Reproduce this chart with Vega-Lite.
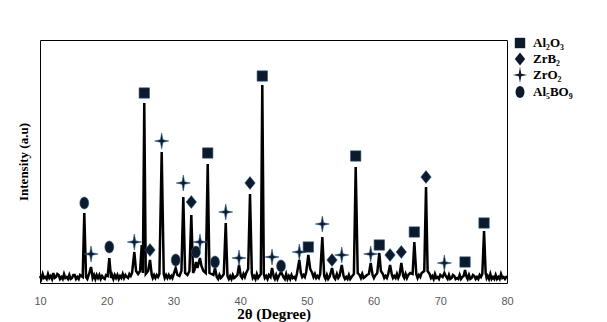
{
  "$schema": "https://vega.github.io/schema/vega-lite/v6.json",
  "width": 467,
  "height": 243,
  "autosize": {"type": "none"},
  "padding": {"left": 40, "top": 40, "right": 100, "bottom": 39},
  "background": "white",
  "config": {"view": {"stroke": "#000", "strokeWidth": 1}, "axis": {"grid": false}},
  "datasets": {
    "pattern": [
      {"theta": 10.0, "intensity": 7}, {"theta": 10.2, "intensity": 4}, {"theta": 10.4, "intensity": 9}, {"theta": 10.6, "intensity": 5}, {"theta": 10.8, "intensity": 6}, {"theta": 11.0, "intensity": 4}, {"theta": 11.2, "intensity": 9},
      {"theta": 11.4, "intensity": 5}, {"theta": 11.6, "intensity": 7}, {"theta": 11.8, "intensity": 4}, {"theta": 12.0, "intensity": 10}, {"theta": 12.2, "intensity": 5}, {"theta": 12.4, "intensity": 6}, {"theta": 12.6, "intensity": 9}, {"theta": 12.8, "intensity": 8},
      {"theta": 13.0, "intensity": 4}, {"theta": 13.2, "intensity": 6}, {"theta": 13.4, "intensity": 4}, {"theta": 13.6, "intensity": 9}, {"theta": 13.8, "intensity": 5}, {"theta": 14.0, "intensity": 6}, {"theta": 14.2, "intensity": 4}, {"theta": 14.4, "intensity": 8},
      {"theta": 14.6, "intensity": 4}, {"theta": 14.8, "intensity": 5}, {"theta": 15.0, "intensity": 8}, {"theta": 15.2, "intensity": 8}, {"theta": 15.4, "intensity": 4}, {"theta": 15.6, "intensity": 6}, {"theta": 15.8, "intensity": 4}, {"theta": 16.0, "intensity": 8},
      {"theta": 16.4, "intensity": 6}, {"theta": 16.64, "intensity": 70}, {"theta": 16.9, "intensity": 6}, {"theta": 17.1, "intensity": 4}, {"theta": 17.3, "intensity": 8},
      {"theta": 17.65, "intensity": 16}, {"theta": 17.9, "intensity": 5}, {"theta": 18.1, "intensity": 8}, {"theta": 18.3, "intensity": 4}, {"theta": 18.5, "intensity": 8}, {"theta": 18.7, "intensity": 5},
      {"theta": 18.9, "intensity": 8}, {"theta": 19.1, "intensity": 4}, {"theta": 19.3, "intensity": 7}, {"theta": 19.5, "intensity": 5}, {"theta": 19.7, "intensity": 4}, {"theta": 19.9, "intensity": 8}, {"theta": 20.15, "intensity": 7},
      {"theta": 20.39, "intensity": 25}, {"theta": 20.65, "intensity": 5}, {"theta": 20.8, "intensity": 8}, {"theta": 21.0, "intensity": 4}, {"theta": 21.2, "intensity": 8}, {"theta": 21.4, "intensity": 5},
      {"theta": 21.6, "intensity": 8}, {"theta": 21.8, "intensity": 4}, {"theta": 22.0, "intensity": 7}, {"theta": 22.2, "intensity": 5}, {"theta": 22.4, "intensity": 9}, {"theta": 22.6, "intensity": 5}, {"theta": 22.8, "intensity": 8}, {"theta": 23.0, "intensity": 6},
      {"theta": 23.2, "intensity": 5}, {"theta": 23.4, "intensity": 9}, {"theta": 23.6, "intensity": 7}, {"theta": 23.8, "intensity": 10}, {"theta": 24.14, "intensity": 31}, {"theta": 24.4, "intensity": 12},
      {"theta": 24.7, "intensity": 9}, {"theta": 25.0, "intensity": 12}, {"theta": 25.25, "intensity": 38}, {"theta": 25.42, "intensity": 10},
      {"theta": 25.63, "intensity": 180}, {"theta": 25.85, "intensity": 9}, {"theta": 26.2, "intensity": 12}, {"theta": 26.49, "intensity": 23},
      {"theta": 26.75, "intensity": 8}, {"theta": 26.9, "intensity": 5}, {"theta": 27.1, "intensity": 8}, {"theta": 27.3, "intensity": 5}, {"theta": 27.5, "intensity": 8}, {"theta": 27.7, "intensity": 6}, {"theta": 27.9, "intensity": 9},
      {"theta": 28.24, "intensity": 131}, {"theta": 28.55, "intensity": 9}, {"theta": 28.7, "intensity": 5}, {"theta": 28.9, "intensity": 8}, {"theta": 29.1, "intensity": 5}, {"theta": 29.3, "intensity": 8},
      {"theta": 29.5, "intensity": 5}, {"theta": 29.7, "intensity": 7}, {"theta": 29.85, "intensity": 5}, {"theta": 30.05, "intensity": 9}, {"theta": 30.34, "intensity": 15}, {"theta": 30.6, "intensity": 8},
      {"theta": 30.9, "intensity": 7}, {"theta": 31.2, "intensity": 12}, {"theta": 31.48, "intensity": 86}, {"theta": 31.75, "intensity": 10},
      {"theta": 32.1, "intensity": 8}, {"theta": 32.4, "intensity": 12}, {"theta": 32.68, "intensity": 68}, {"theta": 32.95, "intensity": 10},
      {"theta": 33.15, "intensity": 13}, {"theta": 33.38, "intensity": 21}, {"theta": 33.6, "intensity": 15}, {"theta": 33.98, "intensity": 25},
      {"theta": 34.2, "intensity": 17}, {"theta": 34.5, "intensity": 12}, {"theta": 34.85, "intensity": 10}, {"theta": 35.14, "intensity": 119},
      {"theta": 35.4, "intensity": 10}, {"theta": 35.7, "intensity": 9}, {"theta": 36.0, "intensity": 8}, {"theta": 36.23, "intensity": 15},
      {"theta": 36.5, "intensity": 6}, {"theta": 36.7, "intensity": 4}, {"theta": 36.9, "intensity": 8}, {"theta": 37.1, "intensity": 5}, {"theta": 37.25, "intensity": 6}, {"theta": 37.55, "intensity": 9},
      {"theta": 37.84, "intensity": 60}, {"theta": 38.1, "intensity": 7}, {"theta": 38.3, "intensity": 4}, {"theta": 38.5, "intensity": 7}, {"theta": 38.7, "intensity": 4}, {"theta": 38.9, "intensity": 8},
      {"theta": 39.1, "intensity": 5}, {"theta": 39.3, "intensity": 6}, {"theta": 39.6, "intensity": 8}, {"theta": 39.83, "intensity": 18}, {"theta": 40.1, "intensity": 7},
      {"theta": 40.3, "intensity": 5}, {"theta": 40.5, "intensity": 9}, {"theta": 40.7, "intensity": 6}, {"theta": 40.9, "intensity": 10}, {"theta": 41.2, "intensity": 14}, {"theta": 41.48, "intensity": 89},
      {"theta": 41.75, "intensity": 10}, {"theta": 41.9, "intensity": 5}, {"theta": 42.1, "intensity": 7}, {"theta": 42.3, "intensity": 4}, {"theta": 42.5, "intensity": 9}, {"theta": 42.7, "intensity": 5}, {"theta": 42.9, "intensity": 7},
      {"theta": 43.1, "intensity": 9}, {"theta": 43.32, "intensity": 198}, {"theta": 43.55, "intensity": 9}, {"theta": 43.7, "intensity": 5}, {"theta": 43.9, "intensity": 7}, {"theta": 44.1, "intensity": 4},
      {"theta": 44.3, "intensity": 8}, {"theta": 44.55, "intensity": 6}, {"theta": 44.78, "intensity": 15}, {"theta": 45.05, "intensity": 6}, {"theta": 45.2, "intensity": 4},
      {"theta": 45.4, "intensity": 8}, {"theta": 45.6, "intensity": 4}, {"theta": 45.8, "intensity": 7}, {"theta": 46.13, "intensity": 11}, {"theta": 46.5, "intensity": 6}, {"theta": 46.7, "intensity": 4},
      {"theta": 46.9, "intensity": 9}, {"theta": 47.1, "intensity": 4}, {"theta": 47.3, "intensity": 7}, {"theta": 47.5, "intensity": 4}, {"theta": 47.7, "intensity": 8}, {"theta": 47.9, "intensity": 5}, {"theta": 48.1, "intensity": 6},
      {"theta": 48.3, "intensity": 4}, {"theta": 48.5, "intensity": 9}, {"theta": 48.87, "intensity": 23}, {"theta": 49.1, "intensity": 10}, {"theta": 49.3, "intensity": 6}, {"theta": 49.5, "intensity": 8},
      {"theta": 49.7, "intensity": 6}, {"theta": 49.9, "intensity": 11}, {"theta": 50.22, "intensity": 28}, {"theta": 50.5, "intensity": 14}, {"theta": 50.8, "intensity": 10},
      {"theta": 51.0, "intensity": 6}, {"theta": 51.2, "intensity": 9}, {"theta": 51.4, "intensity": 5}, {"theta": 51.6, "intensity": 7}, {"theta": 51.8, "intensity": 5}, {"theta": 52.0, "intensity": 9}, {"theta": 52.32, "intensity": 46},
      {"theta": 52.6, "intensity": 7}, {"theta": 52.8, "intensity": 4}, {"theta": 53.0, "intensity": 8}, {"theta": 53.2, "intensity": 4}, {"theta": 53.4, "intensity": 6}, {"theta": 53.77, "intensity": 15},
      {"theta": 54.05, "intensity": 6}, {"theta": 54.25, "intensity": 4}, {"theta": 54.5, "intensity": 9}, {"theta": 54.7, "intensity": 5}, {"theta": 54.9, "intensity": 7}, {"theta": 55.23, "intensity": 18},
      {"theta": 55.5, "intensity": 7}, {"theta": 55.7, "intensity": 4}, {"theta": 55.9, "intensity": 6}, {"theta": 56.1, "intensity": 4}, {"theta": 56.3, "intensity": 8}, {"theta": 56.5, "intensity": 4}, {"theta": 56.7, "intensity": 6},
      {"theta": 57.05, "intensity": 9}, {"theta": 57.32, "intensity": 116}, {"theta": 57.45, "intensity": 72}, {"theta": 57.62, "intensity": 10},
      {"theta": 57.9, "intensity": 8}, {"theta": 58.1, "intensity": 5}, {"theta": 58.3, "intensity": 9}, {"theta": 58.5, "intensity": 5}, {"theta": 58.7, "intensity": 6}, {"theta": 59.0, "intensity": 8},
      {"theta": 59.3, "intensity": 9}, {"theta": 59.57, "intensity": 20}, {"theta": 59.85, "intensity": 8}, {"theta": 60.05, "intensity": 5}, {"theta": 60.2, "intensity": 7},
      {"theta": 60.55, "intensity": 10}, {"theta": 60.86, "intensity": 30}, {"theta": 61.1, "intensity": 12}, {"theta": 61.4, "intensity": 9},
      {"theta": 61.6, "intensity": 5}, {"theta": 61.8, "intensity": 7}, {"theta": 62.0, "intensity": 5}, {"theta": 62.2, "intensity": 9}, {"theta": 62.47, "intensity": 18}, {"theta": 62.75, "intensity": 8},
      {"theta": 62.9, "intensity": 5}, {"theta": 63.1, "intensity": 7}, {"theta": 63.3, "intensity": 5}, {"theta": 63.5, "intensity": 9}, {"theta": 63.7, "intensity": 5}, {"theta": 63.9, "intensity": 8}, {"theta": 64.16, "intensity": 20},
      {"theta": 64.45, "intensity": 7}, {"theta": 64.6, "intensity": 5}, {"theta": 64.8, "intensity": 9}, {"theta": 65.0, "intensity": 5}, {"theta": 65.2, "intensity": 8}, {"theta": 65.5, "intensity": 10},
      {"theta": 65.85, "intensity": 9}, {"theta": 66.11, "intensity": 41}, {"theta": 66.4, "intensity": 9}, {"theta": 66.6, "intensity": 5}, {"theta": 66.8, "intensity": 8},
      {"theta": 67.0, "intensity": 6}, {"theta": 67.2, "intensity": 10}, {"theta": 67.6, "intensity": 12}, {"theta": 67.86, "intensity": 96}, {"theta": 68.1, "intensity": 12},
      {"theta": 68.4, "intensity": 9}, {"theta": 68.6, "intensity": 5}, {"theta": 68.8, "intensity": 7}, {"theta": 69.0, "intensity": 4}, {"theta": 69.2, "intensity": 9}, {"theta": 69.4, "intensity": 5}, {"theta": 69.6, "intensity": 6},
      {"theta": 69.8, "intensity": 4}, {"theta": 70.0, "intensity": 8}, {"theta": 70.35, "intensity": 6}, {"theta": 70.61, "intensity": 10}, {"theta": 70.9, "intensity": 6},
      {"theta": 71.1, "intensity": 4}, {"theta": 71.3, "intensity": 8}, {"theta": 71.5, "intensity": 4}, {"theta": 71.7, "intensity": 5}, {"theta": 71.9, "intensity": 8}, {"theta": 72.1, "intensity": 7}, {"theta": 72.3, "intensity": 4}, {"theta": 72.5, "intensity": 5},
      {"theta": 72.7, "intensity": 4}, {"theta": 72.9, "intensity": 8}, {"theta": 73.1, "intensity": 4}, {"theta": 73.3, "intensity": 6}, {"theta": 73.5, "intensity": 7}, {"theta": 73.71, "intensity": 13},
      {"theta": 73.95, "intensity": 6}, {"theta": 74.1, "intensity": 4}, {"theta": 74.3, "intensity": 8}, {"theta": 74.5, "intensity": 4}, {"theta": 74.7, "intensity": 5}, {"theta": 74.9, "intensity": 8}, {"theta": 75.1, "intensity": 7},
      {"theta": 75.3, "intensity": 4}, {"theta": 75.5, "intensity": 6}, {"theta": 75.7, "intensity": 4}, {"theta": 75.9, "intensity": 8}, {"theta": 76.1, "intensity": 6}, {"theta": 76.3, "intensity": 9}, {"theta": 76.56, "intensity": 52},
      {"theta": 76.8, "intensity": 10}, {"theta": 76.95, "intensity": 5}, {"theta": 77.1, "intensity": 7}, {"theta": 77.3, "intensity": 4}, {"theta": 77.5, "intensity": 9}, {"theta": 77.7, "intensity": 4}, {"theta": 77.9, "intensity": 6},
      {"theta": 78.1, "intensity": 4}, {"theta": 78.3, "intensity": 8}, {"theta": 78.5, "intensity": 4}, {"theta": 78.7, "intensity": 6}, {"theta": 78.9, "intensity": 4}, {"theta": 79.1, "intensity": 9}, {"theta": 79.3, "intensity": 5}, {"theta": 79.5, "intensity": 6},
      {"theta": 79.7, "intensity": 4}, {"theta": 80.0, "intensity": 7}
    ],
    "markers": [
      {"theta": 16.64, "intensity": 80, "phase": "Al₅BO₉"},
      {"theta": 20.39, "intensity": 36, "phase": "Al₅BO₉"},
      {"theta": 30.34, "intensity": 23, "phase": "Al₅BO₉"},
      {"theta": 33.38, "intensity": 31, "phase": "Al₅BO₉"},
      {"theta": 36.23, "intensity": 21, "phase": "Al₅BO₉"},
      {"theta": 46.13, "intensity": 17, "phase": "Al₅BO₉"},
      {"theta": 17.65, "intensity": 29, "phase": "ZrO₂"},
      {"theta": 24.14, "intensity": 41, "phase": "ZrO₂"},
      {"theta": 28.24, "intensity": 142, "phase": "ZrO₂"},
      {"theta": 31.48, "intensity": 100, "phase": "ZrO₂"},
      {"theta": 33.98, "intensity": 41, "phase": "ZrO₂"},
      {"theta": 37.84, "intensity": 71, "phase": "ZrO₂"},
      {"theta": 39.83, "intensity": 25, "phase": "ZrO₂"},
      {"theta": 44.78, "intensity": 26, "phase": "ZrO₂"},
      {"theta": 48.87, "intensity": 31, "phase": "ZrO₂"},
      {"theta": 52.32, "intensity": 59, "phase": "ZrO₂"},
      {"theta": 55.23, "intensity": 28, "phase": "ZrO₂"},
      {"theta": 59.57, "intensity": 29, "phase": "ZrO₂"},
      {"theta": 70.61, "intensity": 20, "phase": "ZrO₂"},
      {"theta": 26.49, "intensity": 33, "phase": "ZrB₂"},
      {"theta": 32.68, "intensity": 81, "phase": "ZrB₂"},
      {"theta": 41.48, "intensity": 100, "phase": "ZrB₂"},
      {"theta": 53.77, "intensity": 23, "phase": "ZrB₂"},
      {"theta": 62.47, "intensity": 28, "phase": "ZrB₂"},
      {"theta": 64.16, "intensity": 31, "phase": "ZrB₂"},
      {"theta": 67.86, "intensity": 106, "phase": "ZrB₂"},
      {"theta": 25.63, "intensity": 190, "phase": "Al₂O₃"},
      {"theta": 35.14, "intensity": 130, "phase": "Al₂O₃"},
      {"theta": 43.32, "intensity": 207, "phase": "Al₂O₃"},
      {"theta": 50.22, "intensity": 36, "phase": "Al₂O₃"},
      {"theta": 57.32, "intensity": 127, "phase": "Al₂O₃"},
      {"theta": 60.86, "intensity": 38, "phase": "Al₂O₃"},
      {"theta": 66.11, "intensity": 51, "phase": "Al₂O₃"},
      {"theta": 73.71, "intensity": 21, "phase": "Al₂O₃"},
      {"theta": 76.56, "intensity": 60, "phase": "Al₂O₃"}
    ]
  },
  "layer": [
    {
      "data": {"name": "pattern"},
      "mark": {"type": "line", "color": "#000000", "strokeWidth": 2.5},
      "encoding": {
        "x": {
          "field": "theta", "type": "quantitative",
          "scale": {"domain": [10, 80], "nice": false},
          "axis": {
            "values": [10, 20, 30, 40, 50, 60, 70, 80],
            "ticks": false, "domain": false, "labelFlush": false,
            "labelFont": "Liberation Sans", "labelFontSize": 11, "labelColor": "#595959",
            "labelPadding": 12,
            "title": "2θ (Degree)", "titleFont": "Liberation Serif", "titleFontSize": 15,
            "titleFontWeight": "bold", "titleColor": "#000", "titlePadding": 0
          }
        },
        "y": {
          "field": "intensity", "type": "quantitative",
          "scale": {"domain": [0, 243], "nice": false},
          "axis": {
            "labels": false, "ticks": false, "domain": false,
            "title": "Intensity (a.u)", "titleFont": "Liberation Serif", "titleFontSize": 13,
            "titleFontWeight": "bold", "titleColor": "#000", "titlePadding": 10
          }
        }
      }
    },
    {
      "data": {"name": "markers"},
      "mark": {"type": "point", "filled": true, "opacity": 1, "color": "#0d1a2b", "size": 256, "stroke": "#2a5a8a", "strokeWidth": 0.6},
      "encoding": {
        "x": {"field": "theta", "type": "quantitative"},
        "y": {"field": "intensity", "type": "quantitative"},
        "shape": {
          "field": "phase", "type": "nominal",
          "scale": {
            "domain": ["Al₂O₃", "ZrB₂", "ZrO₂", "Al₅BO₉"],
            "range": [
              "M-0.65,-0.65L0.65,-0.65L0.65,0.65L-0.65,0.65Z",
              "M0,-0.8L0.65,0L0,0.8L-0.65,0Z",
              "M0,-1L0.16,-0.16L0.88,0L0.16,0.16L0,1L-0.16,0.16L-0.88,0L-0.16,-0.16Z",
              "M0.56,0L0.517,0.287L0.396,0.53L0.214,0.693L0,0.75L-0.214,0.693L-0.396,0.53L-0.517,0.287L-0.56,0L-0.517,-0.287L-0.396,-0.53L-0.214,-0.693L0,-0.75L0.214,-0.693L0.396,-0.53L0.517,-0.287Z"
            ]
          },
          "legend": {
            "title": null, "orient": "none", "legendX": 472, "legendY": -5, "padding": 0,
            "rowPadding": 1, "symbolSize": 256, "symbolFillColor": "#0d1a2b", "symbolStrokeWidth": 0,
            "labelFont": "Liberation Serif", "labelFontWeight": "bold", "labelFontSize": 13,
            "labelColor": "#000", "labelOffset": 5
          }
        }
      }
    }
  ]
}
